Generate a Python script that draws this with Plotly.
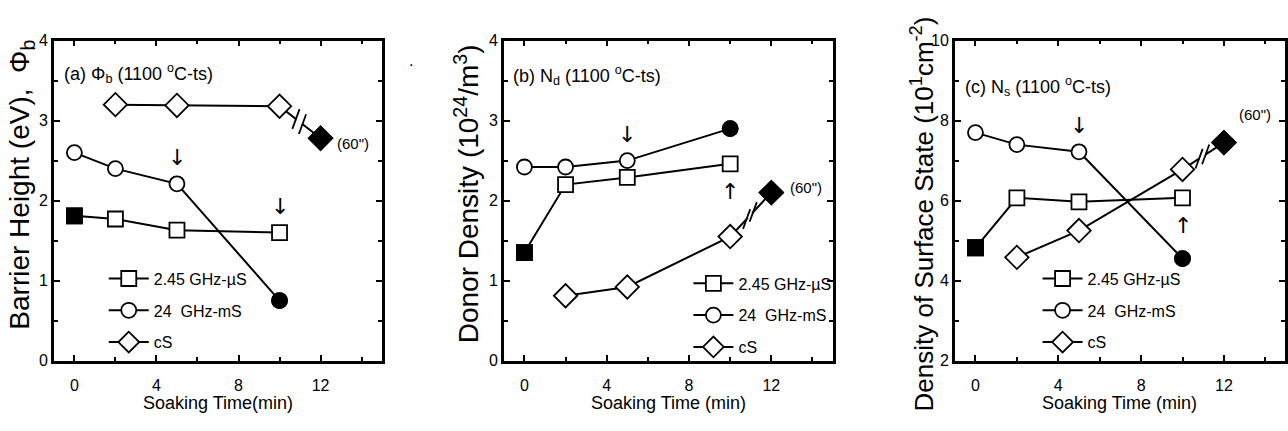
import plotly.graph_objects as go

W, H = 1288, 431
FONT = "Liberation Sans, Arial, sans-serif"

# ---------------- data ----------------
soak_time = [0, 2, 5, 10]          # 2.45 GHz-uS and 24 GHz-mS samples
soak_time_cs = [2, 5, 10, 12]      # cS samples (12 = 60" point after break)

series_names = ["2.45 GHz-\u00b5S", "24\u00a0 GHz-mS", "cS"]
series_symbols = ["square", "circle", "diamond"]

# (a) barrier height (eV)
phi_us = [1.81, 1.77, 1.63, 1.60]
phi_ms = [2.60, 2.40, 2.21, 0.75]
phi_cs = [3.20, 3.19, 3.18, 2.78]

# (b) donor density (10^24 / m^3)
nd_us = [1.35, 2.20, 2.29, 2.46]
nd_ms = [2.42, 2.42, 2.50, 2.90]
nd_cs = [0.81, 0.92, 1.55, 2.10]

# (c) density of surface state
ns_us = [4.82, 6.07, 5.97, 6.07]
ns_ms = [7.70, 7.40, 7.22, 4.55]
ns_cs = [4.58, 5.25, 6.78, 7.45]

# index of the filled (solid) point in each series
filled_idx = {"us": 0, "ms": 3, "cs": 3}

panel_titles = [
    "(a) \u03a6<sub>b</sub> (1100 <sup>o</sup>C-ts)",
    "(b) N<sub>d</sub> (1100 <sup>o</sup>C-ts)",
    "(c) N<sub>s</sub> (1100 <sup>o</sup>C-ts)",
]
y_titles = [
    "Barrier Height (eV),\u00a0 \u03a6<sub>b</sub>",
    "Donor Density (10<sup>24</sup>/m<sup>3</sup>)",
    "Density of Surface State (10<sup>1</sup>cm<sup>-2</sup>)",
]
x_titles = ["Soaking Time(min)", "Soaking Time (min)", "Soaking Time (min)"]
y_ranges = [[0, 4], [0, 4], [2, 10]]
y_dticks = [1, 1, 2]
x_ticks = [0, 4, 8, 12]

# arrows: (series, index, direction)
arrows = [
    [("ms", 2, "down"), ("us", 3, "down")],
    [("ms", 2, "down"), ("us", 3, "up")],
    [("ms", 2, "down"), ("us", 3, "up")],
]

# ---------------- layout geometry (pixels) ----------------
x_dom_px = [(54, 383), (505, 835), (957, 1288)]
x_rng = [[-1, 15], [-1, 15], [-1, 14.95]]
y_dom = [1 - 367 / H, 1 - 34 / H]
title_pos = [(62, 68), (512, 70), (965, 82)]
ytitle_pos = [(22, 184), (468, 193), (925, 214)]
ytitle_size = [28, 28, 26]
legend_pos = [(104, 264), (690, 269), (1040, 264)]
sixty_shift = [(14, -5), (17, 5), (13, 28)]

fig = go.Figure()
panels = [
    dict(us=phi_us, ms=phi_ms, cs=phi_cs),
    dict(us=nd_us, ms=nd_ms, cs=nd_cs),
    dict(us=ns_us, ms=ns_ms, cs=ns_cs),
]

annotations = []
for p, pdata in enumerate(panels):
    xa = "x" if p == 0 else f"x{p+1}"
    ya = "y" if p == 0 else f"y{p+1}"
    leg = "legend" if p == 0 else f"legend{p+1}"
    keys = ["us", "ms", "cs"]
    for k, key in enumerate(keys):
        xs = soak_time_cs if key == "cs" else soak_time
        ys = pdata[key]
        msize = 18 if key == "cs" else 15
        fig.add_trace(go.Scatter(
            x=xs, y=ys, mode="lines+markers", name=series_names[k],
            xaxis=xa, yaxis=ya, legend=leg, legendgroup=f"{p}{key}",
            line=dict(color="black", width=2),
            marker=dict(symbol=series_symbols[k], size=msize,
                        color="white", line=dict(color="black", width=1.8)),
            showlegend=True,
        ))
        fi = filled_idx[key]
        fig.add_trace(go.Scatter(
            x=[xs[fi]], y=[ys[fi]], mode="markers", showlegend=False,
            xaxis=xa, yaxis=ya,
            marker=dict(symbol=series_symbols[k], size=msize,
                        color="black", line=dict(color="black", width=1.8)),
        ))
    # break marks on the cS line between the last two points
    x0, x1 = soak_time_cs[2], soak_time_cs[3]
    y0, y1 = pdata["cs"][2], pdata["cs"][3]
    bx = [x0 + (x1 - x0) * f for f in (0.40, 0.56)]
    by = [y0 + (y1 - y0) * f for f in (0.40, 0.56)]
    fig.add_trace(go.Scatter(
        x=[(bx[0] + bx[1]) / 2], y=[(by[0] + by[1]) / 2], mode="markers",
        showlegend=False, xaxis=xa, yaxis=ya,
        marker=dict(symbol="square", size=6, color="white", line=dict(width=0)),
    ))
    fig.add_trace(go.Scatter(
        x=bx, y=by, mode="markers", showlegend=False, xaxis=xa, yaxis=ya,
        marker=dict(symbol="line-ns", size=15, angle=20,
                    line=dict(color="black", width=1.8)),
    ))

    # (60") label
    sx, sy = sixty_shift[p]
    annotations.append(dict(
        x=soak_time_cs[3], y=pdata["cs"][3], xref=xa, yref=ya, text='(60")',
        showarrow=False, xanchor="left", xshift=sx, yshift=sy,
        font=dict(family=FONT, size=15, color="black")))

    # arrows
    for key, idx, d in arrows[p]:
        xs = soak_time_cs if key == "cs" else soak_time
        annotations.append(dict(
            x=xs[idx], y=pdata[key][idx], xref=xa, yref=ya,
            text="\u2193" if d == "down" else "\u2191", showarrow=False,
            yshift=26 if d == "down" else -28,
            font=dict(family="DejaVu Sans", size=22, color="black")))

    # panel title
    tx, ty = title_pos[p]
    annotations.append(dict(
        x=tx / W, y=1 - ty / H, xref="paper", yref="paper", text=panel_titles[p],
        showarrow=False, xanchor="left", yanchor="middle",
        font=dict(family=FONT, size=18, color="black")))
    # y title
    yx, yy = ytitle_pos[p]
    annotations.append(dict(
        x=yx / W, y=1 - yy / H, xref="paper", yref="paper", text=y_titles[p],
        showarrow=False, textangle=-90, xanchor="center", yanchor="middle",
        font=dict(family=FONT, size=ytitle_size[p], color="black")))
    # x title
    annotations.append(dict(
        x=0.5, y=1 - 411 / H, xref=f"{xa} domain", yref="paper", text=x_titles[p],
        showarrow=False, xanchor="center", yanchor="middle",
        font=dict(family=FONT, size=18, color="black")))

    axis_common = dict(showline=True, linewidth=2.5, linecolor="black",
                       mirror="allticks", ticks="inside", ticklen=6, tickwidth=2,
                       tickcolor="black", showgrid=False, zeroline=False,
                       tickfont=dict(family=FONT, size=16, color="black"))
    dx0, dx1 = x_dom_px[p]
    fig.update_layout(**{
        ("xaxis" if p == 0 else f"xaxis{p+1}"): dict(
            domain=[dx0 / W, dx1 / W], range=x_rng[p], anchor=ya,
            tickmode="array", tickvals=x_ticks, ticklabelstandoff=9,
            minor=dict(dtick=2, tick0=0, ticks="inside", ticklen=4, tickwidth=1.5,
                       tickcolor="black"),
            **axis_common),
        ("yaxis" if p == 0 else f"yaxis{p+1}"): dict(
            domain=y_dom, range=y_ranges[p], anchor=xa,
            dtick=y_dticks[p], tick0=0,
            minor=dict(dtick=y_dticks[p] / 2, ticks="inside", ticklen=4,
                       tickwidth=1.5, tickcolor="black"),
            **axis_common),
    })
    lx, ly = legend_pos[p]
    fig.update_layout(**{
        leg: dict(x=lx / W, y=1 - ly / H, xanchor="left", yanchor="top",
                  bgcolor="rgba(0,0,0,0)", borderwidth=0, tracegroupgap=8,
                  itemwidth=40,
                  font=dict(family=FONT, size=16, color="black"))
    })

# tiny stray dot in the reference
annotations.append(dict(x=408 / W, y=1 - 44 / H, xref="paper", yref="paper",
                        text=".", showarrow=False,
                        font=dict(family=FONT, size=16, color="black")))

fig.update_layout(
    width=W, height=H, margin=dict(l=0, r=0, t=0, b=0),
    paper_bgcolor="white", plot_bgcolor="white",
    annotations=annotations, font=dict(family=FONT, color="black"),
)

fig.write_html("out.html")
